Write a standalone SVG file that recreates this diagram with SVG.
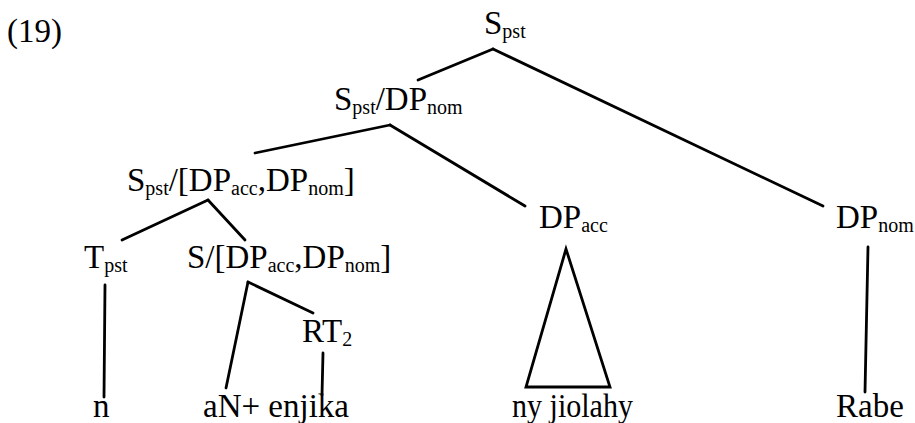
<svg xmlns="http://www.w3.org/2000/svg" width="915" height="423" viewBox="0 0 915 423">
<style>
text{font-family:"Liberation Serif","Times New Roman",serif;font-size:33px;fill:#000}
.s{font-size:20px}
.e{stroke:#000;stroke-width:2.8;fill:none;stroke-linecap:round;stroke-linejoin:miter}
</style>
<rect width="915" height="423" fill="#fff"/>
<g id="label19"><text x="7" y="42">(19)</text></g>
<g id="n-root"><text x="484" y="34">S<tspan class="s" dy="4">pst</tspan></text></g>
<g id="n-spst-dpnom"><text x="334" y="110">S<tspan class="s" dy="4">pst</tspan><tspan dy="-4">/DP</tspan><tspan class="s" dy="4">nom</tspan></text></g>
<g id="n-spst-acc-nom"><text x="127" y="191">S<tspan class="s" dy="4">pst</tspan><tspan dy="-4">/[DP</tspan><tspan class="s" dy="4">acc</tspan><tspan dy="-4">,DP</tspan><tspan class="s" dy="4">nom</tspan><tspan dy="-4">]</tspan></text></g>
<g id="n-tpst"><text x="84" y="268">T<tspan class="s" dy="4">pst</tspan></text></g>
<g id="n-s-acc-nom"><text x="187" y="268">S/[DP<tspan class="s" dy="4">acc</tspan><tspan dy="-4">,DP</tspan><tspan class="s" dy="4">nom</tspan><tspan dy="-4">]</tspan></text></g>
<g id="n-dpacc"><text x="539" y="228">DP<tspan class="s" dy="4">acc</tspan></text></g>
<g id="n-dpnom"><text x="836" y="228">DP<tspan class="s" dy="4">nom</tspan></text></g>
<g id="n-rt2"><text x="302" y="342">RT<tspan class="s" dy="4">2</tspan></text></g>
<g id="n-n"><text x="93" y="417">n</text></g>
<g id="n-an-enjika"><text x="203" y="417">aN+ enjika</text></g>
<g id="n-ny-jiolahy"><text x="512" y="417" textLength="121" lengthAdjust="spacingAndGlyphs">ny jiolahy</text></g>
<g id="n-rabe"><text x="836" y="417">Rabe</text></g>
<g id="connectors">
<line class="e" x1="493" y1="49" x2="418" y2="80"/>
<line class="e" x1="493" y1="49" x2="823" y2="206"/>
<line class="e" x1="390" y1="125" x2="255" y2="153"/>
<line class="e" x1="390" y1="125" x2="525" y2="206"/>
<line class="e" x1="208" y1="200" x2="122" y2="240"/>
<line class="e" x1="208" y1="200" x2="245" y2="240"/>
<line class="e" x1="105" y1="285" x2="104" y2="397"/>
<line class="e" x1="248" y1="282" x2="226" y2="388"/>
<line class="e" x1="248" y1="282" x2="313" y2="313"/>
<line class="e" x1="323" y1="353" x2="322" y2="395"/>
<polygon class="e" points="566,249 526,387 610,387"/>
<line class="e" x1="868" y1="247" x2="865" y2="392"/>
</g>
</svg>
